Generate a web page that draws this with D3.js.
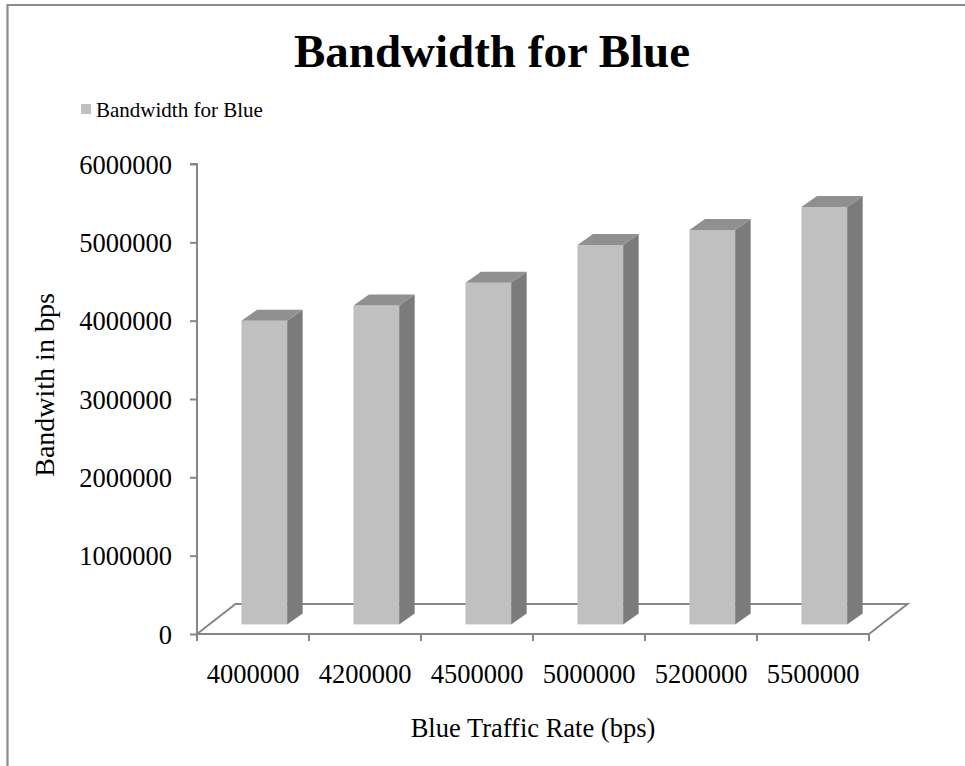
<!DOCTYPE html>
<html>
<head>
<meta charset="utf-8">
<script src="https://cdn.jsdelivr.net/npm/d3@7/dist/d3.min.js"></script>
<style>
  html, body { margin: 0; padding: 0; background: #fff; }
  svg { display: block; font-family: "Liberation Serif", "Times New Roman", serif; }
</style>
</head>
<body>
<svg id="chart" width="965" height="766"></svg>
<script>
// Traffic rates on the x axis and the measured bandwidth for each
const categories = ["4000000", "4200000", "4500000", "5000000", "5200000", "5500000"];
const bandwidth = [3875000, 4070000, 4360000, 4845000, 5035000, 5330000];
const yTicks = [0, 1000000, 2000000, 3000000, 4000000, 5000000, 6000000];
const seriesName = "Bandwidth for Blue";
const titleText = "Bandwidth for Blue";
const xTitle = "Blue Traffic Rate (bps)";
const yTitle = "Bandwith in bps";

const svg = d3.select("#chart");
const axisColor = "#868686";

// plot frame (front plane) and oblique depth of the floor
const plotLeft = 197, plotRight = 869, plotTop = 164, plotBase = 634;
const floorDX = 38.5, floorDY = -30;
// bars sit partway into the floor, with their own depth
const barFrontT = 0.32;
const barDX = 15.5, barDY = -11;

const x = d3.scaleBand().domain(categories).range([plotLeft, plotRight]).padding(0);
const y = d3.scaleLinear().domain([0, 6000000]).range([plotBase, plotTop]);
const barW = x.bandwidth() * 0.408;

// outer chart border (top and left edges)
svg.append("path")
  .attr("d", "M7.5,766 L7.5,5 L965,5")
  .attr("fill", "none").attr("stroke", "#8c8c8c").attr("stroke-width", 2.2);

// title
svg.append("text")
  .attr("x", 492).attr("y", 67)
  .attr("text-anchor", "middle")
  .attr("font-weight", "bold").attr("font-size", 47)
  .text(titleText);

// legend
svg.append("rect").attr("x", 81).attr("y", 104).attr("width", 10).attr("height", 10).attr("fill", "#c0c0c0");
svg.append("text").attr("x", 96).attr("y", 117).attr("font-size", 21).text(seriesName);

// floor
const floor = svg.append("g").attr("fill", "none").attr("stroke", axisColor).attr("stroke-width", 2);
floor.append("path").attr("d",
  `M${plotLeft},${plotBase} L${plotLeft + floorDX},${plotBase + floorDY} L${plotRight + floorDX},${plotBase + floorDY} L${plotRight},${plotBase}`);

// y axis
const yAxis = svg.append("g")
  .attr("transform", `translate(${plotLeft},0)`)
  .call(d3.axisLeft(y).tickValues(yTicks).tickFormat(d3.format("d")).tickSize(7).tickPadding(18));
yAxis.select(".domain").attr("stroke", axisColor).attr("stroke-width", 2)
  .attr("d", `M-7,${plotTop}H0V${plotBase}`);
yAxis.selectAll(".tick line").attr("stroke", axisColor).attr("stroke-width", 2);
yAxis.selectAll(".tick text")
  .attr("font-family", "Liberation Serif, serif").attr("font-size", 26.5).attr("fill", "#000")
  .attr("dy", "0.34em");

// x axis: labels at category centres, ticks at category boundaries
const xAxis = svg.append("g")
  .attr("transform", `translate(0,${plotBase})`)
  .call(d3.axisBottom(x).tickSize(0).tickPadding(30));
xAxis.select(".domain").attr("stroke", axisColor).attr("stroke-width", 2)
  .attr("d", `M${plotLeft},0H${plotRight}`);
xAxis.selectAll(".tick text")
  .attr("font-family", "Liberation Serif, serif").attr("font-size", 26.5).attr("fill", "#000");
const boundaries = categories.map(c => x(c)).concat([plotRight]);
xAxis.selectAll(".bound").data(boundaries).enter().append("line")
  .attr("class", "bound")
  .attr("x1", d => d).attr("x2", d => d).attr("y1", 0).attr("y2", 7)
  .attr("stroke", axisColor).attr("stroke-width", 2);

// 3D bars
const shiftX = floorDX * barFrontT, shiftY = floorDY * barFrontT;
const bars = svg.append("g").selectAll("g").data(categories.map((c, i) => ({ c, v: bandwidth[i] })))
  .enter().append("g");

bars.each(function (d) {
  const g = d3.select(this);
  const x0 = x(d.c) + (x.bandwidth() - barW) / 2 + shiftX - 1;
  const x1 = x0 + barW;
  const yb = y(0) + shiftY;
  const yt = y(d.v) + shiftY;
  // front face
  g.append("rect").attr("x", x0).attr("y", yt).attr("width", barW).attr("height", yb - yt).attr("fill", "#c0c0c0");
  // right side face
  g.append("path").attr("fill", "#7b7b7b")
    .attr("d", `M${x1},${yt}L${x1 + barDX},${yt + barDY}L${x1 + barDX},${yb + barDY}L${x1},${yb}Z`);
  // top face
  g.append("path").attr("fill", "#909090")
    .attr("d", `M${x0},${yt}L${x0 + barDX},${yt + barDY}L${x1 + barDX},${yt + barDY}L${x1},${yt}Z`);
});

// axis titles
svg.append("text")
  .attr("x", 533).attr("y", 737)
  .attr("text-anchor", "middle").attr("font-size", 26.5)
  .text(xTitle);
svg.append("text")
  .attr("transform", "translate(54,385) rotate(-90)")
  .attr("text-anchor", "middle").attr("font-size", 28)
  .text(yTitle);
</script>
</body>
</html>
